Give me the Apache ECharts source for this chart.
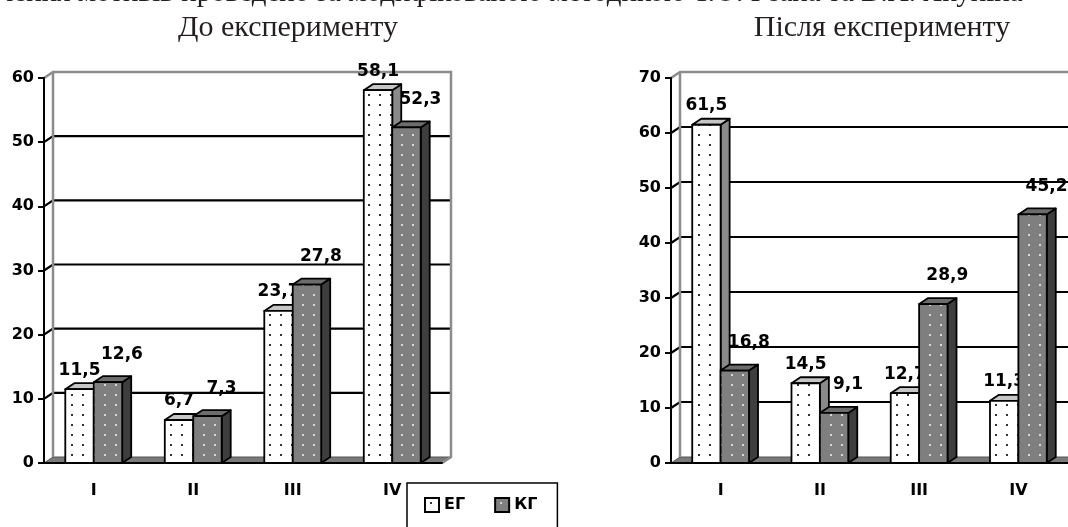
<!DOCTYPE html>
<html><head><meta charset="utf-8">
<script src="https://cdn.jsdelivr.net/npm/echarts@6/dist/echarts.min.js"></script>
<style>html,body{margin:0;padding:0;background:#fff}#c{width:1068px;height:527px}</style>
</head><body><div id="c"></div>
<script>
const categories = ['I', 'II', 'III', 'IV'];
const seriesNames = ['ЕГ', 'КГ'];
const beforeEG = [11.5, 6.7, 23.7, 58.1];
const beforeKG = [12.6, 7.3, 27.8, 52.3];
const afterEG = [61.5, 14.5, 12.7, 11.3];
const afterKG = [16.8, 9.1, 28.9, 45.2];
const titles = ['До експерименту', 'Після експерименту'];
const headerLine = 'значення мотивів проведено за модифікованою методикою Т.О. Реана та В.А. Якуніна';
const axisMax = [60, 70];
const axisStep = 10;

const DX = 9, DY = -6;
const FONT = '"DejaVu Sans", sans-serif';

function makePattern(bg, dot) {
  const c = document.createElement('canvas');
  c.width = 11; c.height = 10;
  const g = c.getContext('2d');
  g.fillStyle = bg; g.fillRect(0, 0, 11, 10);
  g.fillStyle = dot; g.fillRect(5, 4, 2, 2);
  return c;
}
const patWhite = { image: makePattern('#ffffff', '#333333'), repeat: 'repeat' };
const patGray = { image: makePattern('#7f7f7f', '#d6d6d6'), repeat: 'repeat' };
const faces = [
  { front: patWhite, top: '#c6c6c6', side: '#8a8a8a' },
  { front: patGray, top: '#6c6c6c', side: '#3e3e3e' }
];
function fmt(v) { return v.toFixed(1).replace('.', ','); }

function barRender(kind) {
  return function (params, api) {
    const cat = api.value(0), v = api.value(1);
    const base = api.coord([cat, 0]);
    const top = api.coord([cat, v]);
    const band = api.size([1, 0])[0];
    const bw = band * 0.286;
    const xl = kind === 0 ? base[0] - bw : base[0];
    const xr = xl + bw;
    const yb = base[1], yt = top[1];
    const f = faces[kind];
    const st = { stroke: '#000', lineWidth: 1.8, lineJoin: 'round' };
    const cx = (xl + xr) / 2 + (kind === 0 ? 0 : 14);
    const cy = yt + DY - (kind === 0 ? 13 : 22);
    return {
      type: 'group',
      children: [
        { type: 'polygon', shape: { points: [[xr, yb], [xr + DX, yb + DY], [xr + DX, yt + DY], [xr, yt]] }, style: Object.assign({ fill: f.side }, st) },
        { type: 'polygon', shape: { points: [[xl, yt], [xr, yt], [xr + DX, yt + DY], [xl + DX, yt + DY]] }, style: Object.assign({ fill: f.top }, st) },
        { type: 'rect', shape: { x: xl, y: yt, width: bw, height: yb - yt }, style: Object.assign({ fill: f.front }, st) },
        { type: 'text', x: cx, y: cy, style: { text: fmt(v), font: 'bold 17px ' + FONT, fill: '#000', textAlign: 'center', textVerticalAlign: 'middle', align: 'center', verticalAlign: 'middle' } }
      ]
    };
  };
}

function wallRender(max) {
  return function (params, api) {
    const cs = params.coordSys;
    const x0 = cs.x, x1 = cs.x + cs.width;
    const y0 = api.coord([0, 0])[1];
    const yM = api.coord([0, max])[1];
    const children = [];
    children.push({ type: 'polygon', shape: { points: [[x0, y0], [x1, y0], [x1 + DX, y0 + DY], [x0 + DX, y0 + DY]] }, style: { fill: '#7a7a7a', stroke: '#555', lineWidth: 1 } });
    for (let v = axisStep; v < max; v += axisStep) {
      const y = api.coord([0, v])[1];
      children.push({ type: 'polyline', shape: { points: [[x0, y], [x0 + DX, y + DY], [x1 + DX, y + DY]] }, style: { stroke: '#000', lineWidth: 2.2, fill: null } });
    }
    children.push({ type: 'polyline', shape: { points: [[x0 + DX, y0 + DY], [x0 + DX, yM + DY]] }, style: { stroke: '#8c8c8c', lineWidth: 2.5, fill: null } });
    children.push({ type: 'polyline', shape: { points: [[x0, yM], [x0 + DX, yM + DY], [x1 + DX, yM + DY], [x1 + DX, y0 + DY], [x1, y0]] }, style: { stroke: '#8c8c8c', lineWidth: 2.5, fill: null } });
    return { type: 'group', children };
  };
}

const grids = [
  { left: 44, top: 78, width: 398, height: 385 },
  { left: 671, top: 78, width: 398, height: 385 }
];
const xAxes = grids.map((g, i) => ({
  type: 'category', gridIndex: i, data: categories, z: 5,
  axisLine: { lineStyle: { color: '#000', width: 2 } },
  axisTick: { length: 6, lineStyle: { color: '#000', width: 2 } },
  axisLabel: { margin: 20, color: '#000', fontFamily: FONT, fontWeight: 'bold', fontSize: 16 },
  splitLine: { show: false }
}));
const yAxes = grids.map((g, i) => ({
  type: 'value', gridIndex: i, min: 0, max: axisMax[i], interval: axisStep, z: 5,
  axisLine: { show: true, lineStyle: { color: '#000', width: 2 } },
  axisTick: { show: true, length: 6, lineStyle: { color: '#000', width: 2 } },
  axisLabel: { margin: 10, color: '#000', fontFamily: FONT, fontWeight: 'bold', fontSize: 16 },
  splitLine: { show: false }
}));

const groups = [[beforeEG, beforeKG], [afterEG, afterKG]];
const series = [];
groups.forEach((pair, gi) => {
  series.push({
    type: 'custom', name: 'wall' + gi, xAxisIndex: gi, yAxisIndex: gi, z: 1, silent: true,
    renderItem: wallRender(axisMax[gi]), data: [[0, 0]], encode: { x: 0, y: 1 }
  });
  pair.forEach((vals, k) => {
    series.push({
      type: 'custom', name: seriesNames[k], xAxisIndex: gi, yAxisIndex: gi, z: 2 + k,
      itemStyle: { color: k === 0 ? '#ffffff' : '#7f7f7f' },
      renderItem: barRender(k), data: vals.map((v, i) => [i, v]), encode: { x: 0, y: 1 }
    });
  });
});

const chart = echarts.init(document.getElementById('c'), null, { renderer: 'canvas' });
chart.setOption({
  animation: false,
  backgroundColor: '#fff',
  grid: grids,
  xAxis: xAxes,
  yAxis: yAxes,
  series: series,
  legend: {
    left: 407, top: 483, orient: 'horizontal',
    borderColor: '#000', borderWidth: 1.5, padding: [14, 20, 40, 17],
    itemWidth: 14, itemHeight: 14, itemGap: 29, selectedMode: false,
    textStyle: { fontFamily: FONT, fontWeight: 'bold', fontSize: 16, color: '#000' },
    data: [
      { name: seriesNames[0], icon: 'rect', itemStyle: { color: patWhite, borderColor: '#000', borderWidth: 2 } },
      { name: seriesNames[1], icon: 'rect', itemStyle: { color: patGray, borderColor: '#000', borderWidth: 2 } }
    ]
  },
  graphic: [
    { type: 'text', x: -40, y: -7, style: { text: headerLine, font: '29px "Liberation Serif", serif', fill: '#231f20', textAlign: 'left', textVerticalAlign: 'middle' } },
    { type: 'text', x: 288, y: 28, style: { text: titles[0], font: '30px "Liberation Serif", serif', fill: '#231f20', textAlign: 'center', textVerticalAlign: 'middle' } },
    { type: 'text', x: 882, y: 28, style: { text: titles[1], font: '30px "Liberation Serif", serif', fill: '#231f20', textAlign: 'center', textVerticalAlign: 'middle' } }
  ]
});
</script></body></html>
